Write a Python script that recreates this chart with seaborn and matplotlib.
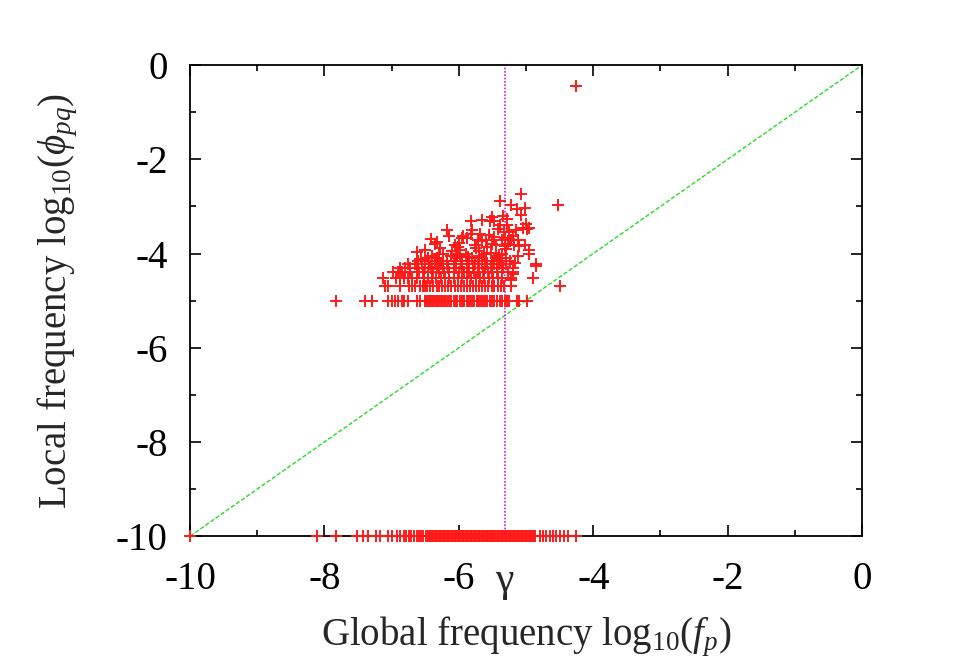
import matplotlib
matplotlib.use("Agg")
import matplotlib.pyplot as plt
import matplotlib.transforms as mtransforms
from matplotlib.ticker import MultipleLocator
import seaborn as sns
import pandas as pd

# threshold gamma on the global frequency axis
gamma = -5.32

# rows of quantized local frequency (log10 phi_pq), x = log10 f_p
row_y = [-5.00, -4.70, -4.52, -4.40, -4.30, -4.22, -4.15, -4.10, -4.05, -4.00]
row_x = [
    [-7.83, -7.40, -7.30, -7.06, -7.00, -6.95, -6.91, -6.85, -6.81, -6.76,
     -6.63, -6.58, -6.51, -6.49, -6.47, -6.45, -6.43, -6.40, -6.38, -6.36,
     -6.33, -6.31, -6.29, -6.27, -6.25, -6.22, -6.20, -6.18, -6.14, -6.11,
     -6.07, -6.05, -6.03, -5.99, -5.96, -5.94, -5.92, -5.88, -5.86, -5.84,
     -5.81, -5.77, -5.73, -5.71, -5.69, -5.66, -5.62, -5.60, -5.58, -5.54,
     -5.51, -5.47, -5.43, -5.39, -5.36, -5.32, -5.29, -5.25, -5.13, -5.10,
     -4.99],
    [-7.10, -7.06, -6.88, -6.74, -6.70, -6.66, -6.58, -6.54, -6.51, -6.47,
     -6.43, -6.38, -6.33, -6.29, -6.25, -6.20, -6.16, -6.11, -6.06, -6.02,
     -5.97, -5.93, -5.88, -5.84, -5.79, -5.74, -5.70, -5.65, -5.61, -5.56,
     -5.51, -5.47, -5.42, -5.38, -5.33, -5.22, -4.50],
    [-7.13, -6.93, -6.88, -6.82, -6.76, -6.70, -6.63, -6.52, -6.46, -6.40,
     -6.34, -6.27, -6.21, -6.14, -6.08, -6.01, -5.95, -5.88, -5.82, -5.75,
     -5.68, -5.62, -5.55, -5.49, -5.42, -5.36, -5.22, -4.89],
    [-6.98, -6.91, -6.85, -6.80, -6.73, -6.60, -6.53, -6.46, -6.38, -6.30,
     -6.22, -6.15, -6.07, -6.00, -5.92, -5.85, -5.78, -5.71, -5.64, -5.57,
     -5.50, -5.43, -5.36, -5.27, -5.20],
    [-6.88, -6.80, -6.72, -6.62, -6.50, -6.42, -6.33, -6.24, -6.16, -6.05,
     -5.96, -5.88, -5.79, -5.70, -5.61, -5.52, -5.44, -5.35, -5.20],
    [-6.76, -6.66, -6.55, -6.44, -6.36, -6.26, -6.17, -6.06, -5.97, -5.86,
     -5.76, -5.66, -5.58, -5.48, -5.40, -5.30, -4.85],
    [-6.61, -6.50, -6.40, -6.30, -6.18, -6.08, -5.95, -5.85, -5.72, -5.60,
     -5.50, -5.38, -5.24],
    [-6.46, -6.32, -6.05, -5.80, -5.66, -5.42, -5.30],
    [-6.40, -6.12, -5.98, -5.70, -5.45, -5.12],
    [-6.29, -6.03, -5.90, -5.62, -5.36, -4.95],
]

# sparse points above the quantized rows
upper_x = [-6.42, -6.35, -6.28, -6.18, -6.14, -6.06, -6.02, -5.94, -5.88, -5.95,
           -5.80, -5.82, -5.82, -5.76, -5.72, -5.65, -5.65, -5.60, -5.58, -5.54,
           -5.51, -5.50, -5.47, -5.45, -5.42, -5.39, -5.39, -5.36, -5.32, -5.29,
           -5.28, -5.27, -5.25, -5.23, -5.22, -5.18, -5.14, -5.12, -5.08, -5.07,
           -5.04, -5.02, -5.02, -5.00, -4.99, -4.96, -4.95, -4.85, -4.53, -4.25,
           -6.50, -6.62, -5.98, -5.70, -5.55, -5.33, -5.30, -5.20, -5.10, -5.17,
           -5.20, -5.22, -6.57, -6.24, -6.10, -5.86, -5.75, -5.52, -5.40, -5.26,
           -6.33, -6.00, -5.68, -5.47, -5.35, -5.31, -5.15]
upper_y = [-3.70, -3.80, -3.89, -3.51, -3.62, -3.81, -3.87, -3.62, -3.68, -3.68,
           -3.51, -3.58, -3.32, -3.81, -3.72, -3.74, -3.28, -3.72, -3.87, -3.30,
           -3.23, -3.79, -3.30, -3.83, -3.47, -2.89, -3.40, -3.72, -3.68, -3.26,
           -3.40, -3.79, -3.55, -2.98, -3.72, -3.81, -3.06, -3.72, -3.19, -2.74,
           -3.45, -3.04, -3.83, -3.38, -3.47, -3.45, -3.92, -4.26, -2.96, -0.45,
           -3.92, -3.96, -3.93, -3.94, -3.60, -3.55, -3.90, -3.62, -3.85, -4.21,
           -4.43, -4.57, -4.12, -4.02, -3.95, -4.07, -3.88, -3.98, -4.03, -3.70,
           -3.75, -3.77, -3.58, -3.64, -3.20, -3.85, -3.50]

# pairs with zero local frequency, drawn on the floor at -10
floor_y = -10.0
floor_x = [-10.00, -8.11, -7.83, -7.52, -7.43, -7.35, -7.23, -7.17, -7.06, -7.00,
           -6.92, -6.87, -6.82, -6.78, -6.74, -6.71, -6.67, -6.63, -6.59, -6.56,
           -6.53, -6.49,
           -6.46, -6.44, -6.42, -6.40, -6.38, -6.36, -6.34, -6.32, -6.30, -6.28,
           -6.26, -6.24, -6.22, -6.20, -6.18, -6.16, -6.14, -6.12, -6.10, -6.08,
           -6.06, -6.04, -6.02, -6.00, -5.98, -5.96, -5.94, -5.92, -5.90, -5.88,
           -5.86, -5.84, -5.82, -5.80, -5.78, -5.76, -5.74, -5.72, -5.70, -5.68,
           -5.66, -5.64, -5.62, -5.60, -5.58, -5.56, -5.54, -5.52, -5.50, -5.48,
           -5.46, -5.44, -5.42, -5.40, -5.38, -5.36, -5.34, -5.32, -5.30, -5.28,
           -5.26, -5.24, -5.22, -5.20, -5.18, -5.16, -5.14, -5.12, -5.10, -5.08,
           -5.06, -5.04, -5.02, -5.00, -4.98, -4.96, -4.94, -4.92, -4.90, -4.88,
           -4.86,
           -4.80, -4.75, -4.70, -4.65, -4.60, -4.55, -4.50, -4.43, -4.38, -4.26]

xs, ys = [], []
for yv, xrow in zip(row_y, row_x):
    xs += xrow
    ys += [yv] * len(xrow)
xs += upper_x
ys += upper_y
xs += floor_x
ys += [floor_y] * len(floor_x)
df = pd.DataFrame({"global": xs, "local": ys})

sns.set_style("ticks")
plt.rcParams["font.family"] = ["Liberation Serif", "DejaVu Serif"]
plt.rcParams["mathtext.fontset"] = "custom"
plt.rcParams["mathtext.rm"] = "Liberation Serif"
plt.rcParams["mathtext.it"] = "Liberation Serif:italic"

fig = plt.figure(figsize=(9.6, 6.71), dpi=100)
ax = fig.add_axes([0.198, 0.201, 0.700, 0.702])

ax.plot([-10, 0], [-10, 0], color="#22dd22", lw=1.0, ls=(0, (3, 1.5)), zorder=1)
ax.axvline(gamma, color="#cc22dd", lw=1.2, ls=(0, (1, 1)), zorder=1)

sns.scatterplot(data=df, x="global", y="local", marker="+", color="#ff1a1a",
                s=75, linewidth=1.4, ax=ax, zorder=3, clip_on=False)

ax.set_xlim(-10, 0)
ax.set_ylim(-10, 0)
ax.xaxis.set_major_locator(MultipleLocator(2))
ax.xaxis.set_minor_locator(MultipleLocator(1))
ax.yaxis.set_major_locator(MultipleLocator(2))
ax.yaxis.set_minor_locator(MultipleLocator(1))
ax.tick_params(which="both", direction="in", top=True, right=True,
               labelsize=28, width=1.2, colors="black")
ax.tick_params(which="major", length=8)
ax.tick_params(which="minor", length=4)
ax.tick_params(axis="y", pad=16)
ax.tick_params(axis="x", pad=18)
ax.set_xticklabels([f"{int(v)}" for v in ax.get_xticks()])
ax.set_yticklabels([f"{int(v)}" for v in ax.get_yticks()])
for sp in ax.spines.values():
    sp.set_linewidth(1.3)
    sp.set_color("black")

trans = mtransforms.blended_transform_factory(ax.transData, ax.transAxes)
ax.text(gamma, -0.054, "γ", transform=trans, ha="center", va="top",
        fontsize=30)

ax.set_xlabel(r"Global frequency log$_{10}$($f_p$)", fontsize=28, labelpad=12)
ax.set_ylabel(r"Local frequency log$_{10}$($\phi_{pq}$)", fontsize=28, labelpad=26)

fig.savefig("out.png", dpi=100, facecolor="white")
